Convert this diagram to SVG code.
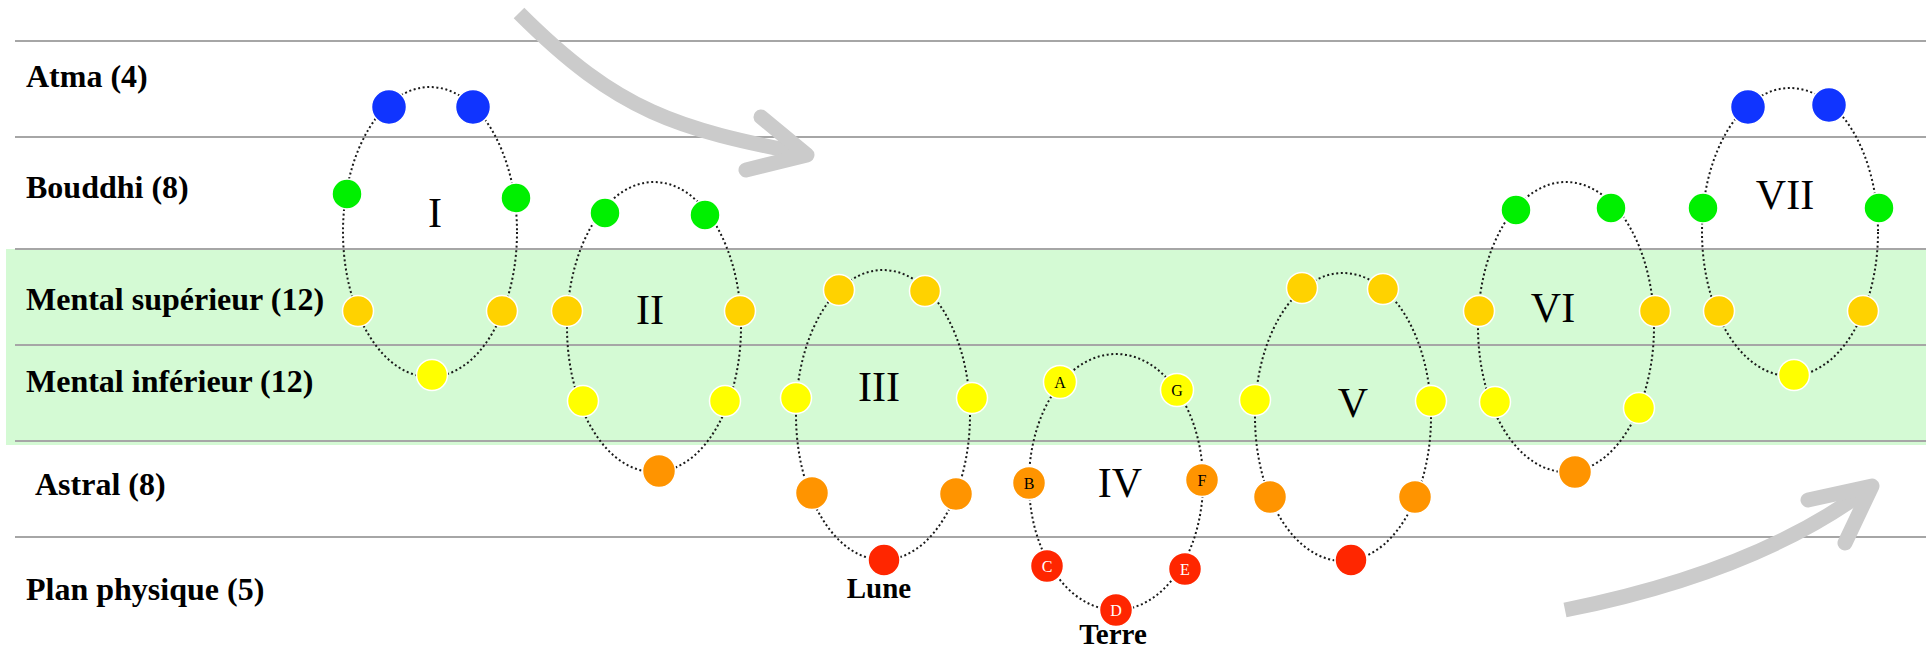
<svg xmlns="http://www.w3.org/2000/svg" width="1930" height="651" viewBox="0 0 1930 651">
<defs>
<style>
.plane{stroke:#a6a6a6;stroke-width:2}
.loop{fill:none;stroke:#1a1a1a;stroke-width:2;stroke-dasharray:2 2.6}
.n{stroke:#fff;stroke-width:1.5}
.blue{fill:#1034ff}
.green{fill:#00f000}
.gold{fill:#ffd200}
.yellow{fill:#ffff00}
.orange{fill:#ff9400}
.red{fill:#ff2600}
.lbl{font-family:"Liberation Serif","Times New Roman",serif;font-weight:bold;font-size:32px;fill:#000}
.num{font-family:"Liberation Serif","Times New Roman",serif;font-size:42px;text-anchor:middle;fill:#000}
.ltr{font-family:"Liberation Serif","Times New Roman",serif;font-size:16px;text-anchor:middle;fill:#000}
.ltrw{font-family:"Liberation Serif","Times New Roman",serif;font-size:16px;text-anchor:middle;fill:#fff}
.place{font-family:"Liberation Serif","Times New Roman",serif;font-weight:bold;font-size:29px;text-anchor:middle;fill:#000}
.arrow{fill:none;stroke:#cbcbcb;stroke-width:15;stroke-linejoin:round}
</style>
</defs>
<rect width="1930" height="651" fill="#fff"/>
<g id="planes">
<rect x="6" y="249" width="1920" height="196" fill="#d4fad4"/>
<line class="plane" x1="15" y1="41" x2="1926" y2="41"/>
<line class="plane" x1="15" y1="137" x2="1926" y2="137"/>
<line class="plane" x1="15" y1="249" x2="1926" y2="249"/>
<line class="plane" x1="15" y1="345" x2="1926" y2="345"/>
<line class="plane" x1="15" y1="441" x2="1926" y2="441"/>
<line class="plane" x1="15" y1="537" x2="1926" y2="537"/>
<text class="lbl" x="26" y="87">Atma (4)</text>
<text class="lbl" x="26" y="198">Bouddhi (8)</text>
<text class="lbl" x="26" y="310">Mental supérieur (12)</text>
<text class="lbl" x="26" y="392">Mental inférieur (12)</text>
<text class="lbl" x="35" y="495">Astral (8)</text>
<text class="lbl" x="26" y="600">Plan physique (5)</text>
</g>
<g id="connectors">
<ellipse class="loop" cx="430" cy="232" rx="87" ry="145"/>
<ellipse class="loop" cx="654" cy="327" rx="87" ry="145"/>
<ellipse class="loop" cx="883" cy="415" rx="87" ry="145"/>
<ellipse class="loop" cx="1116" cy="482" rx="87" ry="128"/>
<ellipse class="loop" cx="1343" cy="417" rx="88" ry="144"/>
<ellipse class="loop" cx="1566" cy="327" rx="88" ry="145"/>
<ellipse class="loop" cx="1790" cy="232" rx="88" ry="144"/>
</g>
<g id="round-I">
<g id="I-1"><circle class="n blue" cx="389" cy="107" r="17.5"/></g>
<g id="I-2"><circle class="n blue" cx="473" cy="107" r="17.5"/></g>
<g id="I-3"><circle class="n green" cx="347" cy="194" r="15"/></g>
<g id="I-4"><circle class="n green" cx="516" cy="198" r="15"/></g>
<g id="I-5"><circle class="n gold" cx="358" cy="311" r="15.5"/></g>
<g id="I-6"><circle class="n gold" cx="502" cy="311" r="15.5"/></g>
<g id="I-7"><circle class="n yellow" cx="432" cy="375" r="15.5"/></g>
<text class="num" x="435" y="227">I</text>
</g>
<g id="round-II">
<g id="II-1"><circle class="n green" cx="605" cy="213" r="15"/></g>
<g id="II-2"><circle class="n green" cx="705" cy="215" r="15"/></g>
<g id="II-3"><circle class="n gold" cx="567" cy="311" r="15.5"/></g>
<g id="II-4"><circle class="n gold" cx="740" cy="311" r="15.5"/></g>
<g id="II-5"><circle class="n yellow" cx="583" cy="401" r="15.5"/></g>
<g id="II-6"><circle class="n yellow" cx="725" cy="401" r="15.5"/></g>
<g id="II-7"><circle class="n orange" cx="659" cy="471" r="16.5"/></g>
<text class="num" x="650" y="324">II</text>
</g>
<g id="round-III">
<g id="III-1"><circle class="n gold" cx="839" cy="290" r="15.5"/></g>
<g id="III-2"><circle class="n gold" cx="925" cy="291" r="15.5"/></g>
<g id="III-3"><circle class="n yellow" cx="796" cy="398" r="15.5"/></g>
<g id="III-4"><circle class="n yellow" cx="972" cy="398" r="15.5"/></g>
<g id="III-5"><circle class="n orange" cx="812" cy="493" r="16.5"/></g>
<g id="III-6"><circle class="n orange" cx="956" cy="494" r="16.5"/></g>
<g id="III-7"><circle class="n red" cx="884" cy="560" r="16"/><text class="place" x="879" y="598">Lune</text></g>
<text class="num" x="879" y="401">III</text>
</g>
<g id="round-IV">
<g id="IV-A"><circle class="n yellow" cx="1060" cy="382" r="16.5"/><text class="ltr" x="1060" y="387.5">A</text></g>
<g id="IV-B"><circle class="n orange" cx="1029" cy="483" r="16.5"/><text class="ltr" x="1029" y="488.5">B</text></g>
<g id="IV-C"><circle class="n red" cx="1047" cy="566" r="16.5"/><text class="ltrw" x="1047" y="571.5">C</text></g>
<g id="IV-D"><circle class="n red" cx="1116" cy="610" r="16.5"/><text class="ltrw" x="1116" y="615.5">D</text><text class="place" x="1113" y="644">Terre</text></g>
<g id="IV-E"><circle class="n red" cx="1185" cy="569" r="16.5"/><text class="ltrw" x="1185" y="574.5">E</text></g>
<g id="IV-F"><circle class="n orange" cx="1202" cy="480" r="16.5"/><text class="ltr" x="1202" y="485.5">F</text></g>
<g id="IV-G"><circle class="n yellow" cx="1177" cy="390" r="16.5"/><text class="ltr" x="1177" y="395.5">G</text></g>
<text class="num" x="1120" y="497">IV</text>
</g>
<g id="round-V">
<g id="V-1"><circle class="n gold" cx="1302" cy="288" r="15.5"/></g>
<g id="V-2"><circle class="n gold" cx="1383" cy="289" r="15.5"/></g>
<g id="V-3"><circle class="n yellow" cx="1255" cy="400" r="15.5"/></g>
<g id="V-4"><circle class="n yellow" cx="1431" cy="401" r="15.5"/></g>
<g id="V-5"><circle class="n orange" cx="1270" cy="497" r="16.5"/></g>
<g id="V-6"><circle class="n orange" cx="1415" cy="497" r="16.5"/></g>
<g id="V-7"><circle class="n red" cx="1351" cy="560" r="16"/></g>
<text class="num" x="1353" y="417">V</text>
</g>
<g id="round-VI">
<g id="VI-1"><circle class="n green" cx="1516" cy="210" r="15"/></g>
<g id="VI-2"><circle class="n green" cx="1611" cy="208" r="15"/></g>
<g id="VI-3"><circle class="n gold" cx="1479" cy="311" r="15.5"/></g>
<g id="VI-4"><circle class="n gold" cx="1655" cy="311" r="15.5"/></g>
<g id="VI-5"><circle class="n yellow" cx="1495" cy="402" r="15.5"/></g>
<g id="VI-6"><circle class="n yellow" cx="1639" cy="408" r="15.5"/></g>
<g id="VI-7"><circle class="n orange" cx="1575" cy="472" r="16.5"/></g>
<text class="num" x="1553" y="322">VI</text>
</g>
<g id="round-VII">
<g id="VII-1"><circle class="n blue" cx="1748" cy="107" r="17.5"/></g>
<g id="VII-2"><circle class="n blue" cx="1829" cy="105" r="17.5"/></g>
<g id="VII-3"><circle class="n green" cx="1703" cy="208" r="15"/></g>
<g id="VII-4"><circle class="n green" cx="1879" cy="208" r="15"/></g>
<g id="VII-5"><circle class="n gold" cx="1719" cy="311" r="15.5"/></g>
<g id="VII-6"><circle class="n gold" cx="1863" cy="311" r="15.5"/></g>
<g id="VII-7"><circle class="n yellow" cx="1794" cy="375" r="15.5"/></g>
<text class="num" x="1785" y="209">VII</text>
</g>
<g id="arrows">
<path class="arrow" d="M519 13 C619 113 678 129 805 154"/>
<path class="arrow" stroke-linecap="round" d="M761 117 L807 155 L746 170"/>
<path class="arrow" d="M1565 610 C1665 590 1782 553.5 1870 487"/>
<path class="arrow" stroke-linecap="round" d="M1808 500 L1872 486 L1845 543"/>
</g>
</svg>
